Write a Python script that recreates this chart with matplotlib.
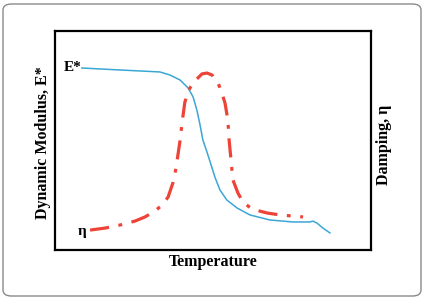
import matplotlib.pyplot as plt
from matplotlib.patches import FancyBboxPatch

# Temperature (arbitrary units) and curve values
e_temp = [8.5, 20.6, 33.2, 36.4, 39.6, 42.1, 43.7, 44.9, 45.9, 46.8, 48.1, 49.1,
          50.6, 52.2, 54.4, 57.6, 61.7, 68.0, 75.3, 80.7, 81.6, 82.9, 84.8, 87.0]
e_modulus = [83.1, 82.2, 81.3, 79.9, 77.6, 74.0, 69.9, 63.9, 57.1, 50.2, 44.7, 40.2,
             33.3, 27.4, 22.8, 19.2, 16.0, 13.7, 12.8, 12.8, 13.2, 12.3, 10.0, 7.8]

eta_temp = [11.1, 15.8, 20.6, 25.3, 28.5, 31.6, 33.9, 35.8, 37.3, 38.3, 38.9, 39.6,
            40.2, 41.1, 42.7, 44.3, 46.5, 48.1, 49.7, 51.6, 52.8, 53.8, 54.7, 55.1,
            55.7, 56.3, 57.9, 59.5, 62.3, 67.1, 71.2, 78.5]
eta_damping = [9.1, 10.0, 11.4, 13.2, 15.1, 17.8, 20.5, 24.2, 30.6, 37.4, 43.4, 50.2,
               58.0, 67.6, 74.0, 77.2, 80.4, 80.8, 79.9, 76.3, 71.7, 67.1, 59.4, 50.2,
               41.1, 32.0, 26.0, 21.9, 18.7, 16.9, 16.0, 15.1]

serif = {'family': 'Liberation Serif', 'weight': 'bold'}

fig = plt.figure(figsize=(4.26, 3.0), dpi=100)
fig.patch.set_facecolor('white')

# rounded outer frame (outline only)
frame = FancyBboxPatch((3 / 426, 4 / 300), 418 / 426, 292 / 300,
                       boxstyle='round,pad=0,rounding_size=0.02',
                       transform=fig.transFigure, facecolor='none',
                       edgecolor='#8a8a8a', linewidth=1.0, zorder=0)
fig.patches.append(frame)

ax = fig.add_axes([55 / 426, 1 - 250 / 300, 316 / 426, 219 / 300])
ax.set_facecolor('none')
ax.set_xlim(0, 100)
ax.set_ylim(0, 100)
ax.set_xticks([])
ax.set_yticks([])
for s in ax.spines.values():
    s.set_linewidth(1.6)
    s.set_color('black')

ax.plot(e_temp, e_modulus, color='#3aa7d4', linewidth=1.1, zorder=2)
ax.plot(eta_temp, eta_damping, color='#ee4438', linewidth=2.3,
        dashes=(6, 3, 1.2, 3), zorder=3)

ax.text(8.3, 83.5, 'E*', ha='right', va='center', fontsize=11, fontdict=serif)
ax.text(10, 8.5, 'η', ha='right', va='center', fontsize=11, fontdict=serif)

ax.set_xlabel('Temperature', fontdict=serif, fontsize=11.5, labelpad=3)
ax.set_ylabel('Dynamic Modulus, E*', fontdict=serif, fontsize=11.5)
ax.yaxis.set_label_coords(-0.012, 0.49)
fig.text(384 / 426, 1 - 145 / 300, 'Damping, η', rotation=90, ha='center',
         va='center', fontsize=11.5, fontdict=serif)

fig.savefig('out.png', dpi=100)
